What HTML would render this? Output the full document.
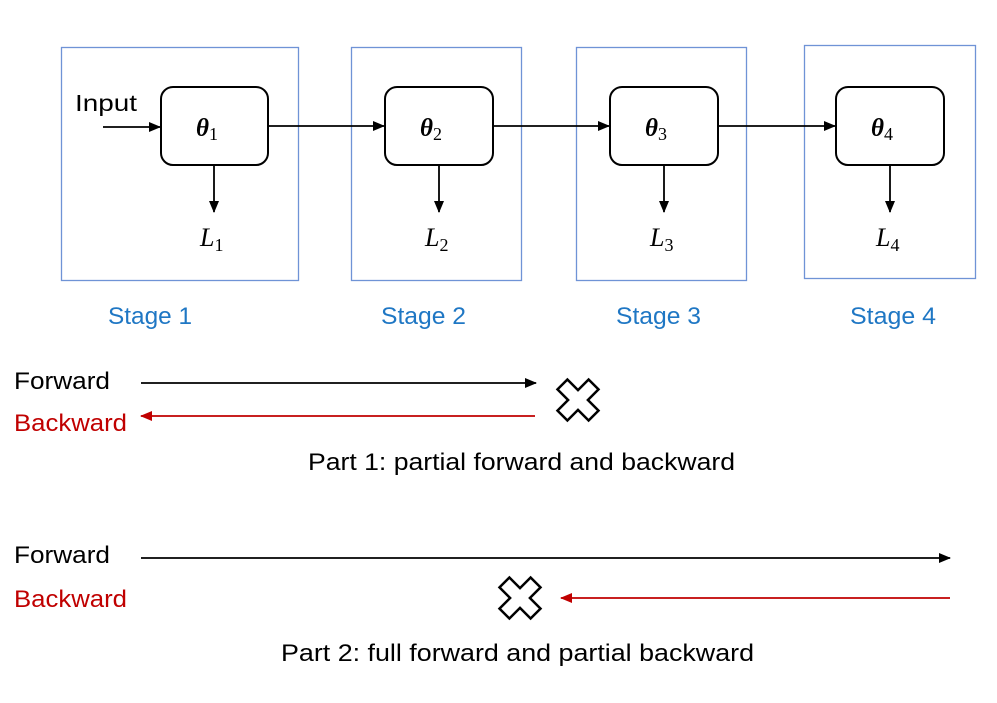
<!DOCTYPE html>
<html><head><meta charset="utf-8"><style>
body{margin:0;background:#fff}
.s{font-family:"Liberation Sans",sans-serif}
.m{font-family:"Liberation Serif",serif}
</style></head><body>
<svg width="997" height="698" viewBox="0 0 997 698" xmlns="http://www.w3.org/2000/svg">
<defs>
<marker id="a" markerWidth="12" markerHeight="10" refX="11" refY="5" orient="auto" markerUnits="userSpaceOnUse"><path d="M0,0 L12,5 L0,10z" fill="#000"/></marker>
<marker id="r" markerWidth="12" markerHeight="10" refX="11" refY="5" orient="auto" markerUnits="userSpaceOnUse"><path d="M0,0 L12,5 L0,10z" fill="#c00000"/></marker>
<g id="x"><polygon points="-7,-22 7,-22 7,-7 22,-7 22,7 7,7 7,22 -7,22 -7,7 -22,7 -22,-7 -7,-7" transform="rotate(45)" fill="#fff" stroke="#000" stroke-width="2.5" stroke-linejoin="miter"/></g>
</defs>
<g fill="none" stroke="#6f93d6" stroke-width="1.3">
<rect x="61.5" y="47.5" width="237" height="233"/>
<rect x="351.5" y="47.5" width="170" height="233"/>
<rect x="576.5" y="47.5" width="170" height="233"/>
<rect x="804.5" y="45.5" width="171" height="233"/>
</g>
<g fill="#fff" stroke="#000" stroke-width="2">
<rect x="161" y="87" width="107" height="78" rx="12"/>
<rect x="385" y="87" width="108" height="78" rx="12"/>
<rect x="610" y="87" width="108" height="78" rx="12"/>
<rect x="836" y="87" width="108" height="78" rx="12"/>
</g>
<g stroke="#000" stroke-width="1.8">
<line x1="103" y1="127" x2="160" y2="127" marker-end="url(#a)"/>
<line x1="268" y1="126" x2="384" y2="126" marker-end="url(#a)"/>
<line x1="493" y1="126" x2="609" y2="126" marker-end="url(#a)"/>
<line x1="718" y1="126" x2="835" y2="126" marker-end="url(#a)"/>
<line x1="214" y1="165" x2="214" y2="212" marker-end="url(#a)"/>
<line x1="439" y1="165" x2="439" y2="212" marker-end="url(#a)"/>
<line x1="664" y1="165" x2="664" y2="212" marker-end="url(#a)"/>
<line x1="890" y1="165" x2="890" y2="212" marker-end="url(#a)"/>
</g>
<text class="s" x="75" y="111" font-size="23" textLength="62" lengthAdjust="spacingAndGlyphs">Input</text>
<g class="m" font-size="25" font-weight="bold" font-style="italic">
<text x="196" y="136">θ<tspan font-size="18" font-style="normal" font-weight="normal" dy="4">1</tspan></text>
<text x="420" y="136">θ<tspan font-size="18" font-style="normal" font-weight="normal" dy="4">2</tspan></text>
<text x="645" y="136">θ<tspan font-size="18" font-style="normal" font-weight="normal" dy="4">3</tspan></text>
<text x="871" y="136">θ<tspan font-size="18" font-style="normal" font-weight="normal" dy="4">4</tspan></text>
</g>
<g class="m" font-size="26" font-style="italic">
<text x="200" y="246">L<tspan font-size="18" font-style="normal" dy="5">1</tspan></text>
<text x="425" y="246">L<tspan font-size="18" font-style="normal" dy="5">2</tspan></text>
<text x="650" y="246">L<tspan font-size="18" font-style="normal" dy="5">3</tspan></text>
<text x="876" y="246">L<tspan font-size="18" font-style="normal" dy="5">4</tspan></text>
</g>
<g class="s" fill="#1f77c4" font-size="24">
<text x="108" y="324" textLength="84" lengthAdjust="spacingAndGlyphs">Stage 1</text>
<text x="381" y="324" textLength="85" lengthAdjust="spacingAndGlyphs">Stage 2</text>
<text x="616" y="324" textLength="85" lengthAdjust="spacingAndGlyphs">Stage 3</text>
<text x="850" y="324" textLength="86" lengthAdjust="spacingAndGlyphs">Stage 4</text>
</g>
<text class="s" x="14" y="389" font-size="24" textLength="96" lengthAdjust="spacingAndGlyphs">Forward</text>
<text class="s" x="14" y="431" font-size="24" fill="#c00000" textLength="113" lengthAdjust="spacingAndGlyphs">Backward</text>
<line x1="141" y1="383" x2="536" y2="383" stroke="#000" stroke-width="1.8" marker-end="url(#a)"/>
<line x1="535" y1="416" x2="141" y2="416" stroke="#c00000" stroke-width="1.8" marker-end="url(#r)"/>
<use href="#x" x="578" y="400"/>
<text class="s" x="308" y="470" font-size="24" textLength="427" lengthAdjust="spacingAndGlyphs">Part 1: partial forward and backward</text>
<text class="s" x="14" y="563" font-size="24" textLength="96" lengthAdjust="spacingAndGlyphs">Forward</text>
<text class="s" x="14" y="607" font-size="24" fill="#c00000" textLength="113" lengthAdjust="spacingAndGlyphs">Backward</text>
<line x1="141" y1="558" x2="950" y2="558" stroke="#000" stroke-width="1.8" marker-end="url(#a)"/>
<line x1="950" y1="598" x2="561" y2="598" stroke="#c00000" stroke-width="1.8" marker-end="url(#r)"/>
<use href="#x" x="520" y="598"/>
<text class="s" x="281" y="661" font-size="24" textLength="473" lengthAdjust="spacingAndGlyphs">Part 2: full forward and partial backward</text>
</svg>
</body></html>
